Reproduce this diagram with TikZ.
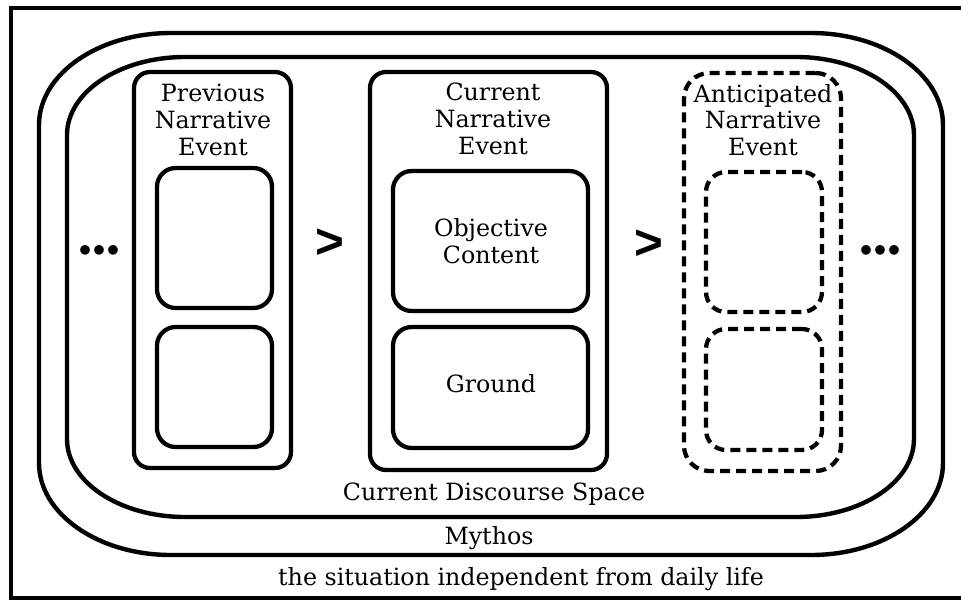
\documentclass[tikz,border=0pt]{standalone}
\usepackage{fontspec}
\setmainfont{DejaVu Serif}
\newfontfamily\symfont{DejaVu Sans}
\newfontfamily\orderfont{Liberation Sans}
\usetikzlibrary{fit}
\newcommand\dotrow{•\kern-2.6pt•\kern-2.6pt•}
\begin{document}
\begin{tikzpicture}[x=0.75pt,y=0.75pt,
  stroke/.style={line width=3.3pt},
  evbox/.style={draw, line width=3.2pt, rounded corners=12pt, inner sep=0pt},
  subbox/.style={draw, line width=3.2pt, rounded corners=14pt, inner sep=0pt},
  dashedline/.style={dash pattern=on 7.5pt off 4.5pt},
  lbl/.style={font=\fontsize{17.8}{20}\selectfont, align=center, inner sep=0pt},
  order/.style={font=\orderfont\bfseries\fontsize{37}{37}\selectfont, inner sep=0pt},
  ellip/.style={font=\symfont\bfseries\fontsize{20.5}{20.5}\selectfont, inner sep=0pt}]

\useasboundingbox (0,0) rectangle (961,-600);

% outer frame (open to the right)
\draw[line width=3.6pt] (975,-8) -- (11,-8) -- (11,-598) -- (975,-598);

% Mythos
\draw[stroke] (171,-33) -- (811,-33)
  arc[start angle=90,end angle=0,x radius=99pt,y radius=69pt] -- (943,-463)
  arc[start angle=0,end angle=-90,x radius=99pt,y radius=69pt] -- (171,-555)
  arc[start angle=270,end angle=180,x radius=99pt,y radius=69pt] -- (39,-125)
  arc[start angle=180,end angle=90,x radius=99pt,y radius=69pt] -- cycle;

% Current Discourse Space
\draw[stroke] (185,-57) -- (796,-57)
  arc[start angle=90,end angle=0,x radius=88.5pt,y radius=58.5pt] -- (914,-439)
  arc[start angle=0,end angle=-90,x radius=88.5pt,y radius=58.5pt] -- (185,-517)
  arc[start angle=270,end angle=180,x radius=88.5pt,y radius=58.5pt] -- (67,-135)
  arc[start angle=180,end angle=90,x radius=88.5pt,y radius=58.5pt] -- cycle;

% previous event
\node[evbox, fit={(134,-72) (291,-468)}] (prev) {};
\node[subbox, fit={(157,-168) (272,-308)}] (prevtop) {};
\node[subbox, fit={(157,-327) (272,-447)}] (prevbot) {};
\node[lbl] (prevlbl) at (213,-120) {Previous\\Narrative\\Event};

% current event
\node[evbox, fit={(370,-72) (607,-470)}] (cur) {};
\node[subbox, fit={(393,-171) (588,-311)}] (obj) {};
\node[subbox, fit={(393,-327) (588,-448)}] (ground) {};
\node[lbl] (curlbl) at (493,-119) {Current\\Narrative\\Event};
\node[lbl] (objlbl) at (491,-241) {Objective\\Content};
\node[lbl] (groundlbl) at (491,-384) {Ground};

% anticipated event
\node[evbox, dashedline, rounded corners=19pt, fit={(684,-73) (841,-471)}] (ant) {};
\node[subbox, dashedline, rounded corners=15pt, fit={(706,-172) (822,-312)}] (anttop) {};
\node[subbox, dashedline, rounded corners=15pt, fit={(706,-329) (822,-450)}] (antbot) {};
\node[lbl] (antlbl) at (763,-120) {Anticipated\\Narrative\\Event};

% ordering marks and ellipses
\node[order] (gt1) at (330,-244) {>};
\node[order] (gt2) at (649,-245) {>};
\node[ellip] (dotsl) at (99,-253) {\dotrow};
\node[ellip] (dotsr) at (880,-253) {\dotrow};

% space labels
\node[lbl] (cdslbl) at (494,-494) {Current Discourse Space};
\node[lbl] (mythlbl) at (489,-538) {Mythos};
\node[lbl] (sitlbl) at (521,-579) {the situation independent from daily life};
\end{tikzpicture}
\end{document}
